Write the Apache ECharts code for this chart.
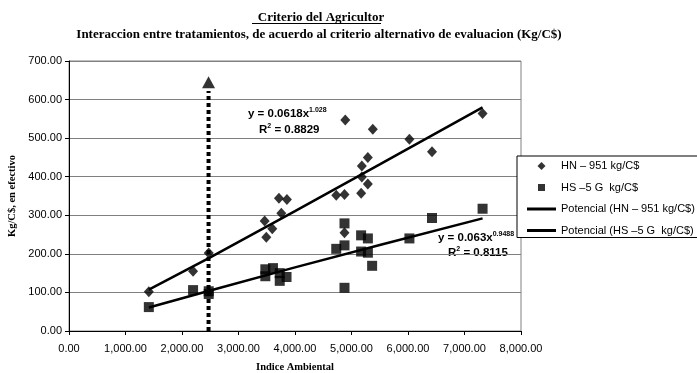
<!DOCTYPE html>
<html>
<head>
<meta charset="utf-8">
<script src="https://cdn.jsdelivr.net/npm/echarts@6/dist/echarts.min.js"></script>
<style>
html,body{margin:0;padding:0;background:#fff;}
#chart{width:697px;height:373px;}
</style>
</head>
<body>
<div id="chart"></div>
<script>
// ---- data ----
var hnX = [1413, 2196, 2473, 3463, 3492, 3598, 3716, 3758, 3857, 4730, 4876, 4876, 4890, 5171, 5183, 5183, 5289, 5289, 5377, 6025, 6425, 7320];
var hnY = [102, 155, 202, 285, 243, 265, 344, 305, 341, 352, 354, 255, 547, 357, 399, 428, 450, 381, 523, 497, 465, 564];
var hsX = [1413, 2196, 2473, 2473, 3475, 3475, 3610, 3730, 3730, 3850, 4730, 4876, 4876, 4876, 5170, 5170, 5290, 5290, 5365, 6025, 6425, 7320];
var hsY = [62, 106, 103, 96, 160, 142, 163, 150, 130, 140, 213, 222, 279, 112, 248, 206, 240, 203, 169, 240, 293, 317];
// trend lines
var trendHNX = [1413, 2500, 4000, 5500, 7320];
var trendHNY = [107, 191, 311, 432, 580];
var trendHSX = [1413, 2500, 4000, 5500, 7320];
var trendHSY = [61, 105, 165, 223, 292];
// dashed arrow
var arrowX = 2470;
var arrowY = [0, 622];
var arrowTipY = 645;
// labels
var seriesNames = ['HN \u2013 951 kg/C$', 'HS \u20135 G  kg/C$', 'Potencial (HN \u2013 951 kg/C$)', 'Potencial (HS \u20135 G  kg/C$)'];
var titleText = 'Criterio del Agricultor';
var subtitleText = 'Interaccion entre tratamientos, de acuerdo al criterio alternativo de evaluacion (Kg/C$)';
var xName = 'Indice Ambiental';
var yName = 'Kg/C$, en efectivo';
var eqHN = ['y = 0.0618x', '1.028', '0.8829'];
var eqHS = ['y = 0.063x', '0.9488', '0.8115'];

function zip(xs, ys){ return xs.map(function(x,i){ return [x, ys[i]]; }); }

var chart = echarts.init(document.getElementById('chart'), null, {renderer:'canvas'});
var serif = '"Liberation Serif", "Times New Roman", serif';
var sans = '"Liberation Sans", Arial, sans-serif';

var richEq = {
  b: {fontFamily: sans, fontWeight: 'bold', fontSize: 11.5, color: '#000', lineHeight: 14},
  s: {fontFamily: sans, fontWeight: 'bold', fontSize: 7, color: '#000', verticalAlign: 'top', lineHeight: 14}
};

// legend icons (drawn in a 29x8 box)
var iconDiamond = 'path://M0,0M29,8M14.5,0L18.5,4L14.5,8L10.5,4Z';
var iconSquare = 'path://M0,0M29,8M11,0.5L18,0.5L18,7.5L11,7.5Z';
var iconLine = 'path://M0,0M29,8M0,2.5L29,2.5L29,5.5L0,5.5Z';

var option = {
  backgroundColor: '#fff',
  animation: false,
  title: [
    {text: titleText, left: 316, top: 6, textAlign: 'center',
     textStyle: {fontFamily: serif, fontWeight: 'bold', fontSize: 13, color: '#000'}},
    {text: subtitleText, left: 314, top: 23, textAlign: 'center',
     textStyle: {fontFamily: serif, fontWeight: 'bold', fontSize: 13, color: '#000'}}
  ],
  grid: {left: 69, right: 176, top: 61, bottom: 42, containLabel: false, outerBoundsMode: 'none',
         show: true, borderColor: '#808080', borderWidth: 1, backgroundColor: 'transparent'},
  xAxis: {
    type: 'value', min: 0, max: 8000, interval: 1000,
    name: xName, nameLocation: 'middle', nameGap: 31,
    nameTextStyle: {fontFamily: serif, fontWeight: 'bold', fontSize: 10.5, color: '#000'},
    axisLine: {show: true, onZero: false, lineStyle: {color: '#000', width: 1}},
    axisTick: {show: true, inside: false, length: 4, lineStyle: {color: '#000'}},
    axisLabel: {margin: 12, fontFamily: sans, fontSize: 11, color: '#000',
      formatter: function(v){ return v.toLocaleString('en-US', {minimumFractionDigits: 2, maximumFractionDigits: 2}); }},
    splitLine: {show: false}
  },
  yAxis: {
    type: 'value', min: 0, max: 700, interval: 100,
    name: yName, nameLocation: 'middle', nameGap: 51, nameRotate: 90,
    nameTextStyle: {fontFamily: serif, fontWeight: 'bold', fontSize: 10.5, color: '#000'},
    axisLine: {show: true, onZero: false, lineStyle: {color: '#000', width: 1}},
    axisTick: {show: true, inside: false, length: 4, lineStyle: {color: '#000'}},
    axisLabel: {margin: 7, fontFamily: sans, fontSize: 11, color: '#000',
      formatter: function(v){ return v.toFixed(2); }},
    splitLine: {show: true, lineStyle: {color: '#808080', width: 1}}
  },
  legend: {
    orient: 'vertical', left: 517, top: 156,
    padding: [4, 40, 1, 10], itemGap: 9.5, itemWidth: 29, itemHeight: 8,
    backgroundColor: '#fff', borderColor: '#000', borderWidth: 1,
    textStyle: {fontFamily: sans, fontSize: 11, color: '#000', lineHeight: 12},
    data: [
      {name: seriesNames[0], icon: iconDiamond},
      {name: seriesNames[1], icon: iconSquare},
      {name: seriesNames[2], icon: iconLine},
      {name: seriesNames[3], icon: iconLine}
    ]
  },
  series: [
    {name: seriesNames[0], type: 'scatter', symbol: 'diamond', symbolSize: [10, 11],
     itemStyle: {color: '#000'}, data: zip(hnX, hnY), z: 3},
    {name: seriesNames[1], type: 'scatter', symbol: 'rect', symbolSize: 10,
     itemStyle: {color: '#000'}, data: zip(hsX, hsY), z: 3},
    {name: seriesNames[2], type: 'line', symbol: 'none', smooth: false,
     lineStyle: {color: '#000', width: 2.5}, itemStyle: {color: '#000'}, data: zip(trendHNX, trendHNY), z: 4},
    {name: seriesNames[3], type: 'line', symbol: 'none', smooth: false,
     lineStyle: {color: '#000', width: 2.5}, itemStyle: {color: '#000'}, data: zip(trendHSX, trendHSY), z: 4},
    {name: 'arrow', type: 'line', symbol: 'none', clip: false,
     lineStyle: {color: '#000', width: 4, type: [4, 3]}, itemStyle: {color: '#000'},
     data: [[arrowX, arrowY[0]], [arrowX, arrowY[1]]], z: 5},
    {name: 'arrowHead', type: 'scatter', symbol: 'triangle', symbolSize: [13, 12], clip: false,
     itemStyle: {color: '#000'}, data: [[arrowX, arrowTipY]], z: 5}
  ],
  graphic: [
    {type: 'line', shape: {x1: 252, y1: 23.5, x2: 381, y2: 23.5}, style: {stroke: '#000', lineWidth: 1}},
    {type: 'text', left: 248, top: 107, style: {text: '{b|' + eqHN[0] + '}{s|' + eqHN[1] + '}', rich: richEq}},
    {type: 'text', left: 259, top: 123, style: {text: '{b|R}{s|2}{b| = ' + eqHN[2] + '}', rich: richEq}},
    {type: 'text', left: 438, top: 231, z: 1, style: {text: '{b|' + eqHS[0] + '}{s|' + eqHS[1] + '}', rich: richEq}},
    {type: 'text', left: 448, top: 246, style: {text: '{b|R}{s|2}{b| = ' + eqHS[2] + '}', rich: richEq}}
  ]
};
chart.setOption(option);
</script>
</body>
</html>
